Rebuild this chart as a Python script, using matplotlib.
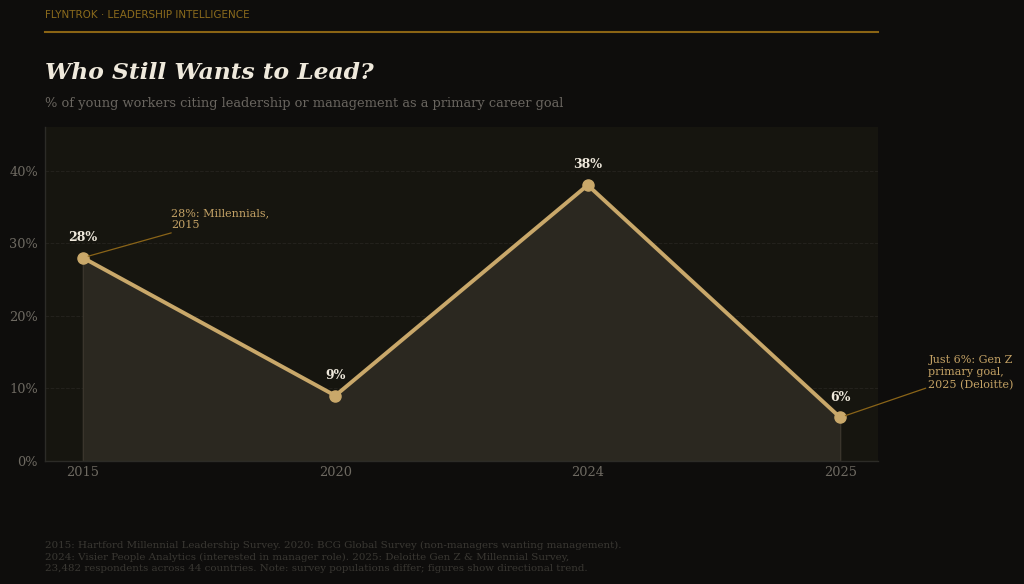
import matplotlib.pyplot as plt
import numpy as np

# data
YEARS = ["2015", "2020", "2024", "2025"]
SHARE = [28, 9, 38, 6]
Y_TICKS = [0, 10, 20, 30, 40]

BG = "#0e0d0c"
AX_BG = "#16150f"
GOLD = "#c9a86a"
GOLD_DARK = "#8a6418"
MUTED = "#6e6a62"

fig = plt.figure(figsize=(10.24, 5.84), dpi=100, facecolor=BG)
ax = fig.add_axes([45 / 1024, 1 - 461 / 584, (878 - 45) / 1024, (461 - 127) / 584])
ax.set_facecolor(AX_BG)

x = np.arange(len(YEARS))
ax.fill_between(x, SHARE, 0, color="#2b2820", edgecolor="#3a352c", linewidth=1, zorder=1)
ax.plot(x, SHARE, color=GOLD, linewidth=2.8, marker="o", markersize=8, zorder=3)

for xi, v in zip(x, SHARE):
    ax.annotate(f"{v}%", (xi, v), xytext=(0, 10), textcoords="offset points",
                ha="center", va="bottom", color="#efe9dc", fontsize=9,
                fontweight="bold", family="DejaVu Serif", zorder=4)

ax.annotate("28%: Millennials,\n2015", (0, SHARE[0]), xytext=(0.35, 31.8),
            textcoords="data", ha="left", va="bottom", color="#c4a265",
            fontsize=8, family="DejaVu Serif", linespacing=1.25,
            arrowprops=dict(arrowstyle="-", color=GOLD_DARK, lw=0.9,
                            shrinkA=0, shrinkB=4))
ax.annotate("Just 6%: Gen Z\nprimary goal,\n2025 (Deloitte)", (3, SHARE[3]),
            xytext=(3.35, 9.8), textcoords="data", ha="left", va="bottom",
            color="#c4a265", fontsize=8, family="DejaVu Serif",
            linespacing=1.25, annotation_clip=False,
            arrowprops=dict(arrowstyle="-", color=GOLD_DARK, lw=0.9,
                            shrinkA=0, shrinkB=4))

ax.set_xlim(-0.15, 3.15)
ax.set_ylim(0, 46)
ax.set_xticks(x)
ax.set_xticklabels(YEARS)
ax.set_yticks(Y_TICKS)
ax.set_yticklabels([f"{t}%" for t in Y_TICKS])
ax.tick_params(colors=MUTED, labelsize=9.3, length=0, pad=5)
ax.tick_params(axis="x", pad=3.5)
for lab in ax.get_xticklabels() + ax.get_yticklabels():
    lab.set_family("DejaVu Serif")
    lab.set_color(MUTED)
ax.grid(axis="y", color="#24221d", linestyle="--", linewidth=0.7, zorder=0)
ax.set_axisbelow(True)
for s in ["top", "right"]:
    ax.spines[s].set_visible(False)
for s in ["left", "bottom"]:
    ax.spines[s].set_color("#2c2b27")
    ax.spines[s].set_linewidth(1)

# header
fig.text(45 / 1024, 1 - 15 / 584, "FLYNTROK · LEADERSHIP INTELLIGENCE", color="#8a6a1c",
         fontsize=7.5, va="center", ha="left", family="DejaVu Sans")
fig.add_artist(plt.Line2D([45 / 1024, 878 / 1024], [1 - 32 / 584, 1 - 32 / 584],
                          color="#8a6414", linewidth=1.5))
fig.text(45 / 1024, 1 - 73 / 584, "Who Still Wants to Lead?", color="#efe9dc",
         fontsize=16.85, fontweight="bold", style="italic", family="DejaVu Serif",
         va="center", ha="left")
fig.text(45 / 1024, 1 - 103 / 584,
         "% of young workers citing leadership or management as a primary career goal",
         color="#6a6660", fontsize=9.35, family="DejaVu Serif", va="center", ha="left")

# footer
fig.text(45 / 1024, 1 - 557 / 584,
         "2015: Hartford Millennial Leadership Survey. 2020: BCG Global Survey (non-managers wanting management).\n"
         "2024: Visier People Analytics (interested in manager role). 2025: Deloitte Gen Z & Millennial Survey,\n"
         "23,482 respondents across 44 countries. Note: survey populations differ; figures show directional trend.",
         color="#3a3833", fontsize=7.4, family="DejaVu Serif", va="center", ha="left",
         linespacing=1.3)

fig.savefig("out.png", dpi=100, facecolor=BG)
